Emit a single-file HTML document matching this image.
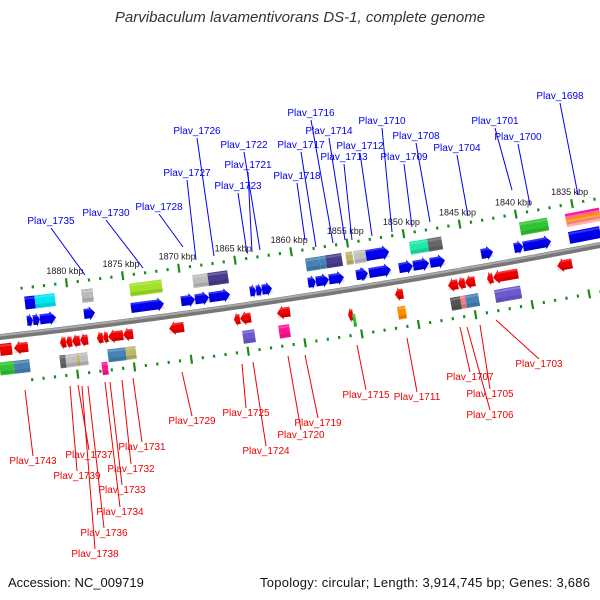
<!DOCTYPE html>
<html><head><meta charset="utf-8">
<style>
html,body{margin:0;padding:0;background:#fff;}
svg{display:block;font-family:"Liberation Sans",sans-serif;}
</style></head>
<body>
<svg id="chart" width="600" height="600" viewBox="0 0 600 600" xmlns="http://www.w3.org/2000/svg">
<text x="300" y="22" text-anchor="middle" font-size="15" font-style="italic" fill="#333">Parvibaculum lavamentivorans DS-1, complete genome</text>
<text x="8" y="587" font-size="13" fill="#111">Accession: NC_009719</text>
<text x="590" y="587" text-anchor="end" font-size="13" textLength="330" fill="#111">Topology: circular; Length: 3,914,745 bp; Genes: 3,686</text>
<g id="layer"></g>
</svg>
<script>
// ---- data ----
const tickKbp = [];
for (let k = 1884; k >= 1832; k--) tickKbp.push(k);
const majorLabels = [1880, 1875, 1870, 1865, 1860, 1855, 1850, 1845, 1840, 1835];

const geneStart = [1883.36,1882.83,1882.21,1878.32,1874.16,1869.73,1868.49,1867.25,1863.63,1863.09,1862.56,1858.49,1857.79,1856.63,1854.24,1854.16,1853.09,1850.44,1849.2,1847.7,1843.18,1840.26,1839.46,1835.39,
 1883.54,1882.65,1878.49,1878.49,1874.25,1868.67,1867.34,1858.67,1857.43,1856.9,1855.13,1854.42,1853.36,1849.47,1847.87,1839.73,1835.66,
 1885.75,1884.51,1880.44,1879.91,1879.38,1878.67,1877.17,1876.63,1876.19,1874.86,1870.79,1865.04,1864.51,1861.24,1854.95,1850.79,1846.1,1845.22,1844.6,1842.65,1842.12,1836.45,
 1885.75,1884.51,1880.44,1879.91,1878.94,1878.67,1876.72,1876.19,1874.6,1864.25,1861.06,1854.51,1850.53,1845.84,1844.95,1844.51,1841.94];
const geneEnd = [1882.83,1882.21,1880.79,1877.34,1871.24,1868.49,1867.25,1865.39,1863.09,1862.56,1861.68,1857.79,1856.63,1855.31,1853.36,1853.18,1851.15,1849.2,1847.78,1846.37,1842.12,1839.46,1836.99,1832.65,
 1882.65,1880.88,1877.52,1877.52,1871.41,1867.34,1865.57,1857.43,1856.9,1855.48,1854.51,1853.36,1851.32,1847.87,1846.63,1837.25,1832.65,
 1884.69,1883.27,1879.91,1879.38,1878.67,1877.96,1876.63,1876.19,1874.86,1873.98,1869.47,1864.51,1863.54,1860.09,1854.51,1850.08,1845.22,1844.6,1843.71,1842.12,1839.91,1835.13,
 1884.51,1883.1,1879.91,1878.94,1878.67,1877.96,1876.19,1874.6,1873.71,1863.18,1860.09,1854.24,1849.82,1844.95,1844.51,1843.36,1839.64];
const geneTrack = [];
const geneColor = ["#0000ee","#0000ee","#0000ee","#0000ee","#0000ee","#0000ee","#0000ee","#0000ee","#0000ee","#0000ee","#0000ee","#0000ee","#0000ee","#0000ee","#0000ee","#0000ee","#0000ee","#0000ee","#0000ee","#0000ee","#0000ee","#0000ee","#0000ee","#0000ee",
 "#0000ee","#00e5ee","#000080","#bbbbbb","#a2e22a","#bdbdbd","#483d8b","#4682b4","#4682b4","#483d8b","#bdb76b","#c0c0c0","#0000ee","#20e8a8","#666666","#33c433","#ff3399",
 "#ee0000","#ee0000","#ee0000","#ee0000","#ee0000","#ee0000","#ee0000","#ee0000","#ee0000","#ee0000","#ee0000","#ee0000","#ee0000","#ee0000","#ee0000","#ee0000","#ee0000","#ee0000","#ee0000","#ee0000","#ee0000","#ee0000",
 "#33c433","#4682b4","#666666","#c0c0c0","#bdb76b","#c0c0c0","#ff1493","#4682b4","#bdb76b","#6a5acd","#ff1493","#33c433","#ff8c00","#555555","#f08080","#4682b4","#6a5acd"];
const geneShape = [];
for (let i = 0; i < 24; i++) { geneTrack.push(-13); geneShape.push("fwd"); }
for (let i = 0; i < 17; i++) { geneTrack.push(-31); geneShape.push(i === 12 ? "fwd" : "box"); }
for (let i = 0; i < 22; i++) { geneTrack.push(13); geneShape.push(i === 0 ? "box" : "rev"); }
for (let i = 0; i < 17; i++) { geneTrack.push(32); geneShape.push("box"); }
geneTrack[41+14] = 26; geneTrack[41+17+11] = 44;
geneShape[40] = "stripes";
geneShape[23] = "box";

const fwdLabels = [["Plav_1698",560,99,578,195],["Plav_1701",495,124,512,190],["Plav_1700",518,140,530,205],["Plav_1704",457,151,468,216],["Plav_1708",416,139,430,222],["Plav_1709",404,160,412,227],["Plav_1710",382,124,392,232],["Plav_1712",360,149,372,236],["Plav_1713",344,160,352,240],["Plav_1714",329,134,345,240],["Plav_1716",311,116,333,243],["Plav_1717",301,148,316,247],["Plav_1718",297,179,305,240],["Plav_1726",197,134,214,256],["Plav_1722",244,148,260,250],["Plav_1721",248,168,252,252],["Plav_1723",238,189,247,253],["Plav_1727",187,176,196,260],["Plav_1728",159,210,183,247],["Plav_1730",106,216,143,268],["Plav_1735",51,224,85,275]];
const revLabels = [["Plav_1703",539,367,496,320],["Plav_1705",490,397,480,325],["Plav_1707",470,380,460,327],["Plav_1706",490,418,467,327],["Plav_1711",417,400,407,338],["Plav_1715",366,398,357,345],["Plav_1719",318,426,305,355],["Plav_1720",301,438,288,356],["Plav_1724",266,454,253,362],["Plav_1725",246,416,242,364],["Plav_1729",192,424,182,372],["Plav_1731",142,450,133,378],["Plav_1732",131,472,122,380],["Plav_1733",122,493,110,382],["Plav_1734",120,515,105,382],["Plav_1736",104,536,88,386],["Plav_1737",89,458,78,385],["Plav_1738",95,557,82,386],["Plav_1739",77,479,70,386],["Plav_1743",33,464,25,390]];

// ---- axis functions ----
const NS = "http://www.w3.org/2000/svg";
const layer = document.getElementById("layer");
const A = -6.67e-5, B = -0.1133, C = 337;
function by(x){ return A*x*x + B*x + C; }
function slope(x){ return B + 2*A*x; }
function featX(k){ return 65 + (1880 - k) * 11.3; }
function tickX(k){ return 72 + (1880 - k) * 11.3; }
function proj(x, d){ const s = slope(x), L = Math.hypot(1, s); return [x - s*d/L, by(x) + d/L]; }
function angle(x){ return Math.atan(slope(x)) * 180 / Math.PI; }
function mk(tag, attrs, parent){ const e = document.createElementNS(NS, tag); for (const k in attrs) e.setAttribute(k, attrs[k]); (parent||layer).appendChild(e); return e; }

let pts = [];
for (let x = -5; x <= 605; x += 5) pts.push(x + "," + by(x).toFixed(2));
const bb = mk("polyline", {points: pts.join(" "), fill: "none", stroke: "#777", "stroke-width": 6});


let pts2 = [];
for (let x = -5; x <= 605; x += 5) pts2.push(x + "," + (by(x) - 1.5).toFixed(2));
const bh = mk("polyline", {points: pts2.join(" "), fill: "none", stroke: "#aaa", "stroke-width": 2});



[-46, 46].forEach(function(d){
  tickKbp.forEach(function(k){
    const x = tickX(k); const p = proj(x, d);
    const major = k % 5 === 0;
    const t = mk("rect", {x: -1, y: major ? -4.5 : -1.5, width: 2.2, height: major ? 9 : 3, fill: "#1a8c1a", transform: "translate(" + p[0].toFixed(1) + "," + p[1].toFixed(1) + ") rotate(" + angle(x).toFixed(2) + ")"});
    
    
  });
});
majorLabels.forEach(function(k){
  const x = tickX(k); const p = proj(x, -58);
  const t = mk("text", {x: p[0].toFixed(1), y: (p[1]+3).toFixed(1), "text-anchor": "middle", "font-size": 9, fill: "#222"});
  t.textContent = k + " kbp";
  
  
});

for (let i = 0; i < geneStart.length; i++) {
  const x1 = featX(geneStart[i]), x2 = featX(geneEnd[i]);
  const cx = (x1 + x2) / 2, d = geneTrack[i];
  const ang = angle(cx), cos = Math.cos(ang * Math.PI / 180);
  const w = Math.abs(x2 - x1) / cos, h = Math.abs(d) > 25 ? 13 : 12, hw = w/2, hh = h/2;
  const g = mk("g", {transform: "translate(" + cx.toFixed(1) + "," + (by(cx) + d).toFixed(1) + ") rotate(" + ang.toFixed(2) + ")"});
  
  
  const head = Math.min(6, w * 0.5), shape = geneShape[i];
  if (shape === "stripes") {
    const cols = ["#ff1493","#ff69b4","#ff8c00","#ffa040","#f08080","#ffb0b0"];
    cols.forEach(function(c, j){ mk("rect", {x: (-hw).toFixed(1), y: (-hh + j*h/6).toFixed(1), width: w.toFixed(1), height: (h/6+0.3).toFixed(2), fill: c}, g); });
    continue;
  }
  let poly;
  if (shape === "fwd") poly = [[-hw,-hh+1],[hw-head,-hh+1],[hw-head,-hh-1],[hw,0],[hw-head,hh+1],[hw-head,hh-1],[-hw,hh-1]];
  else if (shape === "rev") poly = [[hw,-hh+1],[-hw+head,-hh+1],[-hw+head,-hh-1],[-hw,0],[-hw+head,hh+1],[-hw+head,hh-1],[hw,hh-1]];
  else poly = [[-hw,-hh],[hw,-hh],[hw,hh],[-hw,hh]];
  mk("polygon", {points: poly.map(function(p){return p[0].toFixed(1)+","+p[1].toFixed(1);}).join(" "), fill: geneColor[i]}, g);
  mk("rect", {x: (-hw).toFixed(1), y: (hh-4).toFixed(1), width: w.toFixed(1), height: 3, fill: "#000", opacity: 0.12}, g);
  mk("rect", {x: (-hw).toFixed(1), y: (-hh+1).toFixed(1), width: w.toFixed(1), height: 2, fill: "#fff", opacity: 0.2}, g);
}

function drawLabels(list, color, below){
  list.forEach(function(l){
    const ln = mk("line", {x1: l[1], y1: below ? l[2]-8 : l[2]+4, x2: l[3], y2: l[4], stroke: color, "stroke-width": 1});
    
    
    const t = mk("text", {x: l[1], y: l[2], "text-anchor": "middle", "font-size": 10, fill: color});
    t.textContent = l[0];
    
    
  });
}
drawLabels(fwdLabels, "#0000ee", false);
drawLabels(revLabels, "#ee0000", true);
</script>
</body></html>
